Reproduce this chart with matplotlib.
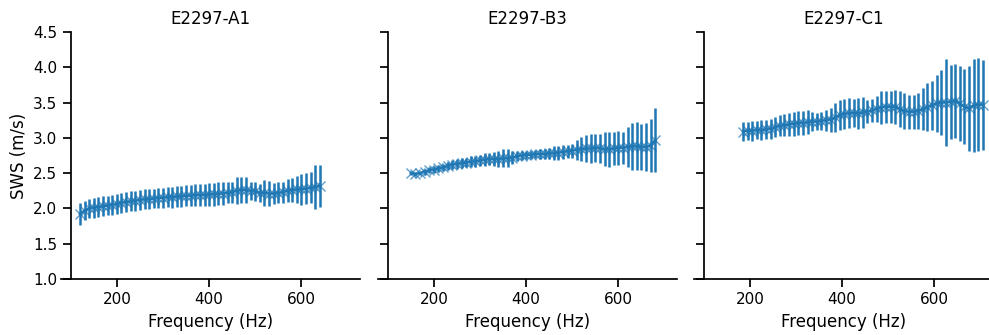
import numpy as np
import matplotlib.pyplot as plt

# panel titles
titles = ["E2297-A1", "E2297-B3", "E2297-C1"]

# frequencies (Hz) for each sample
freq_a1 = list(range(120, 650, 10))
freq_b3 = list(range(150, 690, 10))
freq_c1 = list(range(185, 715, 10))

# mean shear wave speed (m/s)
sws_a1 = [1.92, 1.97, 2.00, 2.01, 2.02, 2.03, 2.04, 2.05, 2.06, 2.08,
          2.09, 2.10, 2.11, 2.12, 2.13, 2.13, 2.14, 2.15, 2.15, 2.16,
          2.16, 2.17, 2.17, 2.18, 2.18, 2.19, 2.19, 2.19, 2.20, 2.20,
          2.21, 2.21, 2.22, 2.23, 2.25, 2.26, 2.26, 2.25, 2.24, 2.22,
          2.22, 2.21, 2.21, 2.22, 2.23, 2.25, 2.26, 2.27, 2.27, 2.28,
          2.29, 2.30, 2.32]
sws_b3 = [2.50, 2.49, 2.50, 2.52, 2.54, 2.55, 2.57, 2.58, 2.60, 2.62,
          2.63, 2.64, 2.65, 2.66, 2.67, 2.68, 2.69, 2.70, 2.70, 2.70,
          2.71, 2.71, 2.72, 2.74, 2.75, 2.76, 2.76, 2.77, 2.77, 2.77,
          2.78, 2.78, 2.79, 2.80, 2.81, 2.82, 2.83, 2.84, 2.85, 2.85,
          2.86, 2.85, 2.84, 2.84, 2.85, 2.86, 2.86, 2.87, 2.88, 2.88,
          2.87, 2.87, 2.89, 2.97]
sws_c1 = [3.09, 3.10, 3.10, 3.11, 3.11, 3.12, 3.13, 3.15, 3.17, 3.18,
          3.19, 3.20, 3.21, 3.21, 3.22, 3.23, 3.23, 3.24, 3.25, 3.26,
          3.29, 3.32, 3.34, 3.35, 3.35, 3.35, 3.36, 3.37, 3.39, 3.41,
          3.43, 3.44, 3.44, 3.44, 3.41, 3.38, 3.37, 3.37, 3.38, 3.41,
          3.44, 3.46, 3.49, 3.50, 3.50, 3.51, 3.52, 3.49, 3.44, 3.42,
          3.46, 3.47, 3.47]

# standard deviation (m/s)
err_a1 = [0.15, 0.14, 0.14, 0.14, 0.14, 0.14, 0.14, 0.14, 0.14, 0.14,
          0.14, 0.14, 0.14, 0.14, 0.14, 0.14, 0.14, 0.14, 0.14, 0.14,
          0.15, 0.15, 0.15, 0.15, 0.15, 0.16, 0.16, 0.16, 0.16, 0.16,
          0.16, 0.16, 0.15, 0.15, 0.19, 0.19, 0.19, 0.13, 0.13, 0.13,
          0.18, 0.18, 0.15, 0.15, 0.15, 0.16, 0.17, 0.19, 0.22, 0.22,
          0.22, 0.31, 0.30]
err_b3 = [0.03, 0.03, 0.03, 0.04, 0.04, 0.05, 0.05, 0.05, 0.06, 0.06,
          0.07, 0.07, 0.07, 0.08, 0.08, 0.08, 0.09, 0.09, 0.10, 0.12,
          0.13, 0.13, 0.09, 0.07, 0.07, 0.06, 0.06, 0.06, 0.07, 0.07,
          0.08, 0.10, 0.10, 0.10, 0.09, 0.10, 0.14, 0.17, 0.19, 0.20,
          0.20, 0.21, 0.24, 0.25, 0.24, 0.24, 0.23, 0.28, 0.33, 0.34,
          0.33, 0.34, 0.38, 0.46]
err_c1 = [0.13, 0.13, 0.14, 0.13, 0.14, 0.14, 0.14, 0.14, 0.15, 0.16,
          0.16, 0.17, 0.17, 0.17, 0.17, 0.13, 0.12, 0.13, 0.15, 0.17,
          0.20, 0.21, 0.21, 0.21, 0.20, 0.22, 0.22, 0.16, 0.16, 0.18,
          0.23, 0.23, 0.23, 0.24, 0.26, 0.26, 0.24, 0.24, 0.26, 0.30,
          0.34, 0.35, 0.40, 0.46, 0.62, 0.52, 0.52, 0.53, 0.53, 0.60,
          0.66, 0.66, 0.64]

freqs = [freq_a1, freq_b3, freq_c1]
sws = [sws_a1, sws_b3, sws_c1]
errs = [err_a1, err_b3, err_c1]

fig = plt.figure(figsize=(9.89, 3.35), dpi=100)
lefts = [61 / 989, 378 / 989, 694 / 989]

for i in range(3):
    ax = fig.add_axes([lefts[i], 56 / 335, 299 / 989, 247 / 335])
    ax.errorbar(freqs[i], sws[i], yerr=errs[i], fmt='-', color='#1f77b4',
                lw=1.8, elinewidth=1.8, capsize=0)
    ax.plot(freqs[i], sws[i], 'x', color='#1f77b4', ms=7, mew=1.0, alpha=0.7)
    ax.set_xlim(79, 727)
    ax.set_ylim(1.0, 4.5)
    ax.set_xticks([200, 400, 600])
    ax.set_yticks(np.arange(1.0, 4.51, 0.5))
    ax.spines['top'].set_visible(False)
    ax.spines['right'].set_visible(False)
    ax.spines['left'].set_position(('data', 100))
    for s in ax.spines.values():
        s.set_linewidth(1.25)
    ax.tick_params(length=6, width=1.25, labelsize=11)
    ax.set_title(titles[i], fontsize=12)
    ax.set_xlabel("Frequency (Hz)", fontsize=12)
    if i == 0:
        ax.set_ylabel("SWS (m/s)", fontsize=12)
    else:
        ax.tick_params(axis='y', labelleft=False)

fig.savefig("out.png", dpi=100)
